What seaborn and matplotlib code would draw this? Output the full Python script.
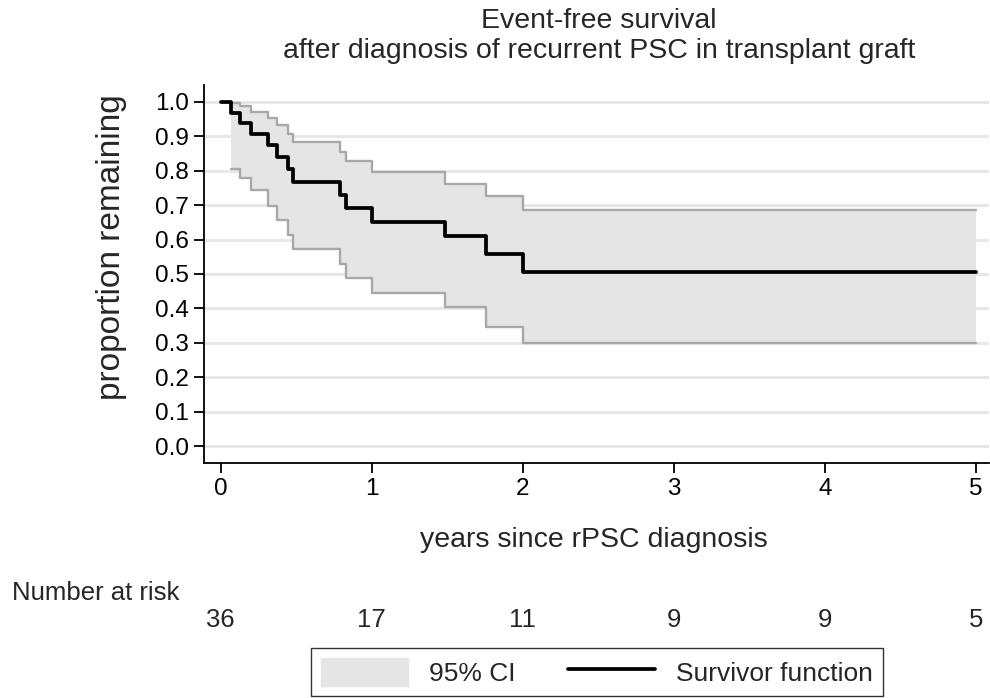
import numpy as np
import pandas as pd
import matplotlib
matplotlib.use("Agg")
import matplotlib.pyplot as plt
import seaborn as sns
from matplotlib.patches import Patch
from matplotlib.lines import Line2D
import matplotlib.transforms as mtransforms

# ---- data ----
surv_time = [0.0, 0.066, 0.126, 0.199, 0.313, 0.369, 0.446, 0.475, 0.79, 0.83, 1.0, 1.483, 1.753, 2.0, 5.0]
surv_prob = [1.0, 0.968, 0.940, 0.908, 0.875, 0.841, 0.805, 0.768, 0.729, 0.692, 0.651, 0.610, 0.557, 0.507, 0.507]

ci_time = [0.066, 0.126, 0.199, 0.313, 0.369, 0.446, 0.475, 0.79, 0.83, 1.0, 1.483, 1.753, 2.0, 5.0]
ci_upper = [0.997, 0.987, 0.971, 0.954, 0.932, 0.908, 0.884, 0.855, 0.829, 0.797, 0.763, 0.726, 0.685, 0.685]
ci_lower = [0.805, 0.778, 0.744, 0.698, 0.658, 0.613, 0.572, 0.530, 0.488, 0.444, 0.403, 0.347, 0.298, 0.298]

risk_times = [0, 1, 2, 3, 4, 5]
risk_counts = [36, 17, 11, 9, 9, 5]

x_ticks = [0, 1, 2, 3, 4, 5]
y_ticks = [0.0, 0.1, 0.2, 0.3, 0.4, 0.5, 0.6, 0.7, 0.8, 0.9, 1.0]

title_lines = ["Event-free survival", "after diagnosis of recurrent PSC in transplant graft"]
x_label = "years since rPSC diagnosis"
y_label = "proportion remaining"

surv_df = pd.DataFrame({"time": surv_time, "prob": surv_prob})
ci_df = pd.DataFrame({"time": ci_time, "upper": ci_upper, "lower": ci_lower})

# ---- style ----
sns.set_theme(style="white")
plt.rcParams["font.family"] = ["Liberation Sans", "DejaVu Sans"]

FILL = "#e5e5e5"
CI_LINE = "#a8a8a8"
GRID = "#e6e6e6"

W, H = 990, 698
fig = plt.figure(figsize=(W / 100, H / 100), dpi=100)
ax = fig.add_axes([204 / W, 1 - 463 / H, (989 - 204) / W, (463 - 85) / H])

ax.fill_between(ci_df["time"], ci_df["lower"], ci_df["upper"], step="post",
                color=FILL, linewidth=0, zorder=1)
sns.lineplot(data=ci_df, x="time", y="upper", drawstyle="steps-post", color=CI_LINE,
             linewidth=1.7, ax=ax, zorder=2, estimator=None)
sns.lineplot(data=ci_df, x="time", y="lower", drawstyle="steps-post", color=CI_LINE,
             linewidth=1.7, ax=ax, zorder=2, estimator=None)
sns.lineplot(data=surv_df, x="time", y="prob", drawstyle="steps-post", color="black",
             linewidth=2.7, ax=ax, zorder=3, estimator=None)

ax.set_xlim(-0.111, 5.086)
ax.set_ylim(-0.0494, 1.0494)
ax.set_xticks(x_ticks)
ax.set_yticks(y_ticks)
ax.set_yticklabels([f"{v:.1f}" for v in y_ticks])
ax.set_xticklabels([str(v) for v in x_ticks])
ax.yaxis.grid(True, color=GRID, linewidth=2.0, zorder=0)
ax.set_axisbelow(True)
for s in ["top", "right"]:
    ax.spines[s].set_visible(False)
for s in ["left", "bottom"]:
    ax.spines[s].set_color("black")
    ax.spines[s].set_linewidth(1.3)
ax.tick_params(axis="both", which="major", direction="out", length=7, width=1.3,
               color="black", labelsize=17.5, labelcolor="black", pad=4, left=True, bottom=True)
ax.set_xlabel("")
ax.set_ylabel("")

fig.text(599 / W, 1 - 21 / H, title_lines[0], ha="center", va="center", fontsize=20.5)
fig.text(599 / W, 1 - 51 / H, title_lines[1], ha="center", va="center", fontsize=20.5)
fig.text(594 / W, 1 - 540 / H, x_label, ha="center", va="center", fontsize=20.5)
fig.text(112 / W, 1 - 247 / H, y_label, ha="center", va="center", fontsize=24, rotation=90)

fig.text(12 / W, 1 - 593 / H, "Number at risk", ha="left", va="center", fontsize=18.5)
trans = mtransforms.blended_transform_factory(ax.transData, fig.transFigure)
for t, n in zip(risk_times, risk_counts):
    ax.text(t, 1 - 620 / H, str(n), transform=trans, ha="center", va="center",
            fontsize=18.5, clip_on=False)

handles = [Patch(facecolor=FILL, edgecolor=FILL, label="95% CI"),
           Line2D([0], [0], color="black", linewidth=2.7, label="Survivor function")]
leg = fig.legend(handles=handles, loc="center", bbox_to_anchor=(597 / W, 1 - 672 / H),
                 ncol=2, frameon=True, fontsize=19, handlelength=3.3, handleheight=1.3,
                 columnspacing=2.0, borderpad=0.35, fancybox=False)
leg.get_frame().set_edgecolor("black")
leg.get_frame().set_linewidth(1.0)

fig.savefig("out.png", dpi=100)
